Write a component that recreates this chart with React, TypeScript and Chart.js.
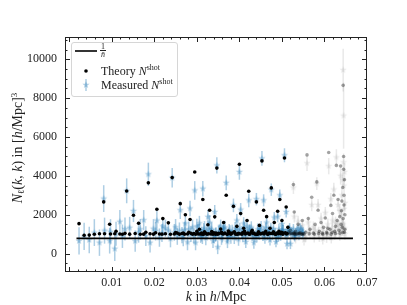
import React, { useEffect, useRef } from "react";
import { Chart, registerables } from "chart.js";

Chart.register(...registerables);

// ---------------- data ----------------
const kBlue = [
  0.0023, 0.0035, 0.0047, 0.0059, 0.0071, 0.0081, 0.0083, 0.0095, 0.0097, 0.0107,
  0.0110, 0.0119, 0.0125, 0.0131, 0.0135, 0.0142, 0.0151, 0.0155, 0.0163, 0.0167,
  0.0175, 0.0180, 0.0186, 0.0190, 0.0198, 0.0206, 0.0203, 0.0212, 0.0220, 0.0218,
  0.0226, 0.0233, 0.0238, 0.0242, 0.0247, 0.0254, 0.0261, 0.0259, 0.0265, 0.0273,
  0.0271, 0.0278, 0.0284, 0.0286, 0.0290, 0.0295, 0.0297, 0.0302, 0.0306, 0.0309,
  0.0314, 0.0316, 0.0321, 0.0326, 0.0330, 0.0333, 0.0338, 0.0342, 0.0345, 0.0347,
  0.0349, 0.0356, 0.0360, 0.0363, 0.0369, 0.0372, 0.0376, 0.0380, 0.0386, 0.0390,
  0.0394, 0.0398, 0.0400, 0.0403, 0.0406, 0.0410, 0.0415, 0.0418, 0.0422, 0.0425,
  0.0430, 0.0434, 0.0440, 0.0443, 0.0447, 0.0451, 0.0453, 0.0457, 0.0460, 0.0464,
  0.0468, 0.0472, 0.0475, 0.0478, 0.0482, 0.0486, 0.0490, 0.0493, 0.0495, 0.0497,
  0.0500, 0.0503, 0.0506, 0.0510, 0.0512, 0.0514, 0.0518, 0.0520, 0.0524, 0.0530,
  0.0535, 0.0540, 0.0546,
  0.0250, 0.0268, 0.0281, 0.0293, 0.0300, 0.0311, 0.0318, 0.0324, 0.0335, 0.0340,
  0.0353, 0.0358, 0.0366, 0.0374, 0.0383, 0.0388, 0.0396, 0.0408, 0.0412, 0.0420,
  0.0428, 0.0437, 0.0445, 0.0455, 0.0462, 0.0470, 0.0480, 0.0488, 0.0499, 0.0508,
  0.0516, 0.0527, 0.0532, 0.0543, 0.0550,
  0.0305, 0.0313, 0.0328, 0.0344, 0.0351, 0.0362, 0.0371, 0.0378, 0.0392, 0.0401,
  0.0414, 0.0423, 0.0432, 0.0441, 0.0449, 0.0458, 0.0466, 0.0474, 0.0484, 0.0492,
  0.0502, 0.0511, 0.0521, 0.0529, 0.0538, 0.0548,
];
const theoryBlue = [
  1540, 940, 950, 990, 1020, 2660, 1020, 1510, 1010, 1020,
  1150, 1010, 990, 1040, 3220, 1000, 1970, 1030, 1560, 990,
  1000, 1100, 3640, 1020, 1000, 2280, 1070, 1010, 1800, 1000,
  1020, 1580, 990, 3910, 1010, 1050, 2570, 1000, 1030, 2000,
  1000, 1010, 1750, 1040, 990, 4200, 1000, 1020, 1250, 1010,
  2780, 1000, 1040, 1480, 2230, 1010, 990, 1890, 1050, 4400,
  1000, 1260, 1020, 1600, 3000, 1010, 1100, 1000, 2430, 1020,
  1400, 1040, 4600, 2060, 1000, 1300, 1030, 1700, 3210, 1010,
  1200, 1050, 2660, 1000, 1450, 1020, 4770, 2230, 1080, 1900,
  1010, 1300, 3380, 1030, 1600, 1000, 2180, 1150, 2780, 1020,
  1700, 1050, 4920, 2400, 1030, 1350, 1010, 1200, 1020, 1060,
  1010, 1040, 1000,
  1080, 1060, 1100, 1030, 1150, 1060, 1120, 1000, 1130, 1070,
  1030, 1100, 1050, 1160, 1060, 1120, 1000, 1080, 1150, 1060,
  1110, 1000, 1120, 1060, 1140, 1050, 1120, 1060, 1100, 1070,
  1110, 1050, 1150, 1080, 1030,
  1010, 990, 1020, 1000, 1040, 1010, 990, 1030, 1000, 1020,
  1010, 990, 1040, 1000, 1020, 1010, 1000, 1030, 990, 1020,
  1000, 1010, 1040, 1000, 1020, 990,
];
const measuredBlue = [
  650, 880, 700, 1080, 560, 2830, 1180, 660, 1120, 250,
  1020, 1640, 890, 1260, 3230, 1330, 2190, 640, 1100, 1250,
  1720, 900, 4080, 560, 1280, 1700, 1150, 820, 1400, 1060,
  1300, 1200, 760, 3900, 1090, 880, 2230, 1180, 950, 1550,
  1220, 580, 2320, 1000, 1350, 3250, 560, 1120, 1560, 930,
  3340, 1200, 800, 1890, 1600, 1080, 640, 2140, 1000, 4540,
  330, 1400, 920, 1260, 3640, 620, 1180, 850, 2480, 1300,
  1700, 730, 4200, 2260, 1100, 1550, 600, 1400, 2740, 1180,
  950, 560, 2800, 1250, 1000, 1380, 4900, 2740, 800, 1600,
  1160, 700, 3290, 1000, 1850, 600, 1900, 1250, 3000, 930,
  1520, 1200, 5060, 2140, 500, 1100, 1300, 500, 1050, 880,
  1150, 950, 1200,
  1350, 800, 1250, 900, 1400, 1000, 1300, 1100, 1250, 900,
  1150, 800, 1350, 1000, 1150, 820, 1200, 900, 1300, 1050,
  1350, 900, 1100, 950, 1300, 1050, 1250, 850, 1150, 1000,
  1200, 1250, 1050, 1300, 1100,
  1150, 870, 1240, 960, 1080, 1300, 900, 1120, 1000, 1250,
  950, 1180, 1050, 870, 1220, 1100, 980, 1300, 1050, 900,
  1200, 1000, 1100, 950, 1250, 1050,
];
const errBlue = [
  700, 700, 680, 690, 680, 690, 670, 660, 650, 640,
  620, 600, 600, 590, 640, 560, 570, 550, 540, 530,
  520, 510, 600, 500, 490, 520, 480, 470, 470, 460,
  450, 450, 440, 500, 430, 430, 450, 420, 420, 420,
  410, 410, 400, 400, 400, 480, 390, 390, 380, 380,
  400, 370, 370, 370, 380, 360, 360, 360, 350, 420,
  360, 350, 350, 350, 380, 340, 340, 340, 350, 330,
  330, 330, 400, 340, 320, 320, 320, 320, 350, 310,
  310, 310, 320, 300, 300, 300, 380, 310, 300, 300,
  290, 290, 320, 290, 290, 280, 290, 280, 300, 280,
  280, 280, 360, 290, 280, 270, 270, 270, 270, 260,
  260, 260, 260,
  430, 420, 400, 390, 390, 380, 370, 370, 360, 360,
  350, 350, 340, 340, 330, 330, 330, 320, 320, 310,
  310, 300, 300, 300, 300, 290, 290, 280, 280, 280,
  270, 270, 260, 260, 260,
  380, 380, 370, 360, 350, 350, 340, 340, 330, 330,
  320, 310, 310, 300, 300, 300, 290, 290, 280, 280,
  280, 270, 270, 260, 260, 260,
];

const kGray = [
  0.0527, 0.0529, 0.0538, 0.0548, 0.0556, 0.0559, 0.0562, 0.0566, 0.0570, 0.0574,
  0.0578, 0.0582, 0.0585, 0.0588, 0.0592, 0.0595, 0.0598, 0.0602, 0.0605, 0.0608,
  0.0610, 0.0613, 0.0615, 0.0618, 0.0619, 0.0622, 0.0624, 0.0626, 0.0628, 0.0630,
  0.0632, 0.0634, 0.0636, 0.0638, 0.0639, 0.0640, 0.0641, 0.0642, 0.0643, 0.0644,
  0.0644, 0.0645, 0.0645, 0.0646, 0.0646, 0.0647, 0.0647, 0.0648, 0.0648,
  0.0532, 0.0542, 0.0552, 0.0564, 0.0576, 0.0586, 0.0596, 0.0606, 0.0616, 0.0626,
  0.0636, 0.0643,
];
const theoryGray = [
  3550, 2140, 1500, 1700, 1100, 5080, 1800, 1250, 2900, 1050,
  1500, 3690, 2230, 1150, 1600, 1050, 1350, 1830, 1100, 1300,
  5200, 1250, 2480, 1100, 2060, 3000, 1150, 1400, 4540, 1700,
  2780, 1200, 1900, 4510, 1500, 2200, 2700, 1350, 3400, 8660,
  1800, 4340, 5000, 2500, 3000, 1100, 3800, 1250, 2000,
  1000, 1020, 1000, 1020, 1000, 1030, 1000, 1020, 1000, 1030,
  1050, 1080,
];
const measuredGray = [
  3400, 1900, 1650, 1450, 900, 4650, 1600, 1050, 2500, 1350,
  1200, 3600, 2500, 900, 1800, 1300, 1000, 2100, 850, 1500,
  4500, 1000, 2800, 1300, 1700, 3300, 1000, 1600, 4950, 1500,
  2500, 1400, 2200, 4000, 1200, 2000, 3000, 1600, 3800, 9450,
  1500, 4700, 7100, 2300, 3500, 1300, 4200, 1000, 2600,
  800, 1100, 700, 1200, 850, 1100, 750, 1150, 800, 1100,
  950, 1200,
];
const errGray = [
  330, 300, 300, 300, 300, 400, 300, 300, 320, 300,
  300, 330, 310, 300, 300, 300, 300, 300, 300, 300,
  420, 300, 320, 300, 310, 340, 300, 300, 420, 300,
  330, 300, 320, 450, 300, 320, 350, 300, 380, 1100,
  320, 450, 1700, 330, 400, 300, 450, 300, 350,
  280, 280, 280, 280, 280, 280, 280, 280, 280, 280,
  290, 300,
];

const shotNoiseLevel = 780;
const shotNoiseK = [0.0017, 0.0667];
const theoryGrayCut = 0.0515;
const xTicks = [0.01, 0.02, 0.03, 0.04, 0.05, 0.06, 0.07];
const yTicks = [0, 2000, 4000, 6000, 8000, 10000];

// ---------------- helpers ----------------
const BLUE_A = "rgba(31,119,180,0.36)";
const GRAY_A = "rgba(120,120,120,0.16)";
const GRAY_DOT = "rgba(0,0,0,0.36)";
const FONT = "'Liberation Serif', 'Times New Roman', serif";

function makeStar(fill: string, r: number) {
  const size = Math.ceil(r * 2) + 2;
  const c = document.createElement("canvas");
  c.width = size;
  c.height = size;
  const ctx = c.getContext("2d")!;
  ctx.fillStyle = fill;
  ctx.beginPath();
  for (let i = 0; i < 10; i++) {
    const a = -Math.PI / 2 + (i * Math.PI) / 5;
    const rr = i % 2 === 0 ? r : r * 0.4;
    ctx.lineTo(size / 2 + rr * Math.cos(a), size / 2 + rr * Math.sin(a));
  }
  ctx.closePath();
  ctx.fill();
  return c;
}

const errorBarPlugin = {
  id: "errorBars",
  beforeDatasetDraw(chart: any, args: any) {
    const ds = chart.data.datasets[args.index];
    if (!ds.errors) return;
    const meta = args.meta;
    const y = chart.scales.y;
    const ctx = chart.ctx;
    const area = chart.chartArea;
    ctx.save();
    ctx.beginPath();
    ctx.rect(area.left, area.top, area.right - area.left, area.bottom - area.top);
    ctx.clip();
    ctx.strokeStyle = ds.errorColor;
    ctx.lineWidth = 1.5;
    meta.data.forEach((pt: any, i: number) => {
      const v = ds.data[i].y;
      const e = ds.errors[i];
      ctx.beginPath();
      ctx.moveTo(pt.x, y.getPixelForValue(v - e));
      ctx.lineTo(pt.x, y.getPixelForValue(v + e));
      ctx.stroke();
    });
    ctx.restore();
  },
};

const framePlugin = {
  id: "frameTicks",
  afterDraw(chart: any) {
    const { ctx, chartArea: a, scales } = chart;
    const xs = scales.x;
    const ys = scales.y;
    ctx.save();
    ctx.strokeStyle = "#222";
    ctx.lineWidth = 1;
    ctx.strokeRect(a.left + 0.5, a.top + 0.5, a.right - a.left - 1, a.bottom - a.top - 1);
    const tickX = (v: number, len: number) => {
      const px = Math.round(xs.getPixelForValue(v)) + 0.5;
      if (px < a.left + 1 || px > a.right - 1) return;
      ctx.beginPath();
      ctx.moveTo(px, a.bottom);
      ctx.lineTo(px, a.bottom - len);
      ctx.moveTo(px, a.top);
      ctx.lineTo(px, a.top + len);
      ctx.stroke();
    };
    const tickY = (v: number, len: number) => {
      const py = Math.round(ys.getPixelForValue(v)) + 0.5;
      if (py < a.top + 1 || py > a.bottom - 1) return;
      ctx.beginPath();
      ctx.moveTo(a.left, py);
      ctx.lineTo(a.left + len, py);
      ctx.moveTo(a.right, py);
      ctx.lineTo(a.right - len, py);
      ctx.stroke();
    };
    for (let i = 0; i <= 35; i++) {
      const v = i * 0.002;
      if (i % 5 === 0) tickX(v, 5);
      else tickX(v, 2.5);
    }
    for (let i = -2; i <= 22; i++) {
      const v = i * 500;
      if (i % 4 === 0) tickY(v, 5);
      else tickY(v, 2.5);
    }
    ctx.restore();
  },
};

export default function App() {
  const ref = useRef<HTMLCanvasElement>(null);

  useEffect(() => {
    const blueStar = makeStar(BLUE_A, 3.8);
    const grayStar = makeStar(GRAY_A, 3.8);

    const blackTheory: any[] = [];
    const grayTheory: any[] = [];
    kBlue.forEach((k, i) => {
      const p = { x: k, y: theoryBlue[i] };
      if (k > theoryGrayCut) grayTheory.push(p);
      else blackTheory.push(p);
    });
    kGray.forEach((k, i) => grayTheory.push({ x: k, y: theoryGray[i] }));

    const chart = new Chart(ref.current!, {
      type: "scatter",
      data: {
        datasets: [
          {
            type: "line",
            label: "1/n",
            data: shotNoiseK.map((k) => ({ x: k, y: shotNoiseLevel })),
            borderColor: "#000",
            borderWidth: 1.6,
            pointRadius: 0,
          } as any,
          {
            label: "Theory N^shot",
            data: blackTheory,
            backgroundColor: "#000",
            borderWidth: 0,
            pointRadius: 1.8,
          },
          {
            label: "Theory N^shot (beyond)",
            data: grayTheory,
            backgroundColor: GRAY_DOT,
            borderWidth: 0,
            pointRadius: 1.8,
          },
          {
            label: "Measured N^shot",
            data: kBlue.map((k, i) => ({ x: k, y: measuredBlue[i] })),
            pointStyle: blueStar,
            errors: errBlue,
            errorColor: BLUE_A,
          } as any,
          {
            label: "Measured N^shot (beyond)",
            data: kGray.map((k, i) => ({ x: k, y: measuredGray[i] })),
            pointStyle: grayStar,
            errors: errGray,
            errorColor: GRAY_A,
          } as any,
        ],
      },
      options: {
        responsive: false,
        animation: false,
        devicePixelRatio: 1,
        layout: { padding: { left: 0, top: 37, right: 40, bottom: 0 } },
        plugins: { legend: { display: false }, tooltip: { enabled: false } },
        scales: {
          x: {
            type: "linear",
            min: -0.001,
            max: 0.07,
            grid: { display: false, drawTicks: false, tickLength: 0 },
            border: { display: false },
            afterBuildTicks: (s: any) => {
              s.ticks = xTicks.map((v) => ({ value: v }));
            },
            afterFit: (s: any) => {
              s.height = 33;
            },
            ticks: {
              padding: 4,
              color: "#222",
              font: { family: FONT, size: 12 },
              maxRotation: 0,
              callback: (v: any) => Number(v).toFixed(2),
            },
          },
          y: {
            type: "linear",
            min: -950,
            max: 11150,
            grid: { display: false, drawTicks: false, tickLength: 0 },
            border: { display: false },
            afterBuildTicks: (s: any) => {
              s.ticks = yTicks.map((v) => ({ value: v }));
            },
            afterFit: (s: any) => {
              s.width = 65;
            },
            ticks: {
              padding: 8,
              color: "#222",
              font: { family: FONT, size: 12 },
              callback: (v: any) => String(v),
            },
          },
        },
      },
      plugins: [errorBarPlugin, framePlugin],
    });
    return () => chart.destroy();
  }, []);

  const txt: React.CSSProperties = {
    position: "absolute",
    fontFamily: FONT,
    color: "#222",
    whiteSpace: "nowrap",
  };
  const sup: React.CSSProperties = { fontSize: 8, position: "relative", top: -5 };

  return (
    <div style={{ position: "absolute", left: 0, top: 0, width: 407, height: 305, background: "#fff" }}>
      <canvas ref={ref} width={407} height={305} style={{ position: "absolute", left: 0, top: 0 }} />
      {/* legend */}
      <div
        style={{
          position: "absolute",
          left: 71,
          top: 42,
          width: 107,
          height: 55,
          border: "1px solid #d6d6d6",
          borderRadius: 3,
          background: "rgba(255,255,255,0.8)",
          boxSizing: "border-box",
        }}
      />
      <svg style={{ position: "absolute", left: 0, top: 0 }} width={407} height={305}>
        <line x1={75} y1={51} x2={97} y2={51} stroke="#000" strokeWidth={1.6} />
        <circle cx={86} cy={71} r={1.8} fill="#000" />
        <line x1={86} y1={79} x2={86} y2={91} stroke={BLUE_A} strokeWidth={1.5} />
        <polygon
          points="86,81.2 86.9,83.8 89.6,83.8 87.4,85.4 88.2,88 86,86.4 83.8,88 84.6,85.4 82.4,83.8 85.1,83.8"
          fill={BLUE_A}
        />
      </svg>
      <div style={{ ...txt, left: 100, top: 43, fontSize: 8, lineHeight: "7px", textAlign: "center" }}>
        <div style={{ borderBottom: "0.8px solid #222", padding: "0 1px" }}>1</div>
        <div>
          <i>n̄</i>
        </div>
      </div>
      <div style={{ ...txt, left: 101, top: 64, fontSize: 12, lineHeight: "14px" }}>
        Theory <i>N</i>
        <span style={sup}>shot</span>
      </div>
      <div style={{ ...txt, left: 101, top: 78, fontSize: 12, lineHeight: "14px" }}>
        Measured <i>N</i>
        <span style={sup}>shot</span>
      </div>
      {/* axis titles */}
      <div style={{ ...txt, left: 216, top: 289, fontSize: 14, lineHeight: "16px", transform: "translateX(-50%)" }}>
        <i>k</i> in <i>h</i>/Mpc
      </div>
      <div
        style={{
          ...txt,
          left: 18,
          top: 148,
          fontSize: 14,
          lineHeight: "16px",
          transform: "translate(-50%, -50%) rotate(-90deg)",
        }}
      >
        <i>N</i>
        <sub style={{ fontSize: 9, position: "relative", top: 2, verticalAlign: "baseline" }}>ℓ</sub>(<i>k</i>, <i>k</i>) in [
        <i>h</i>/Mpc]
        <span style={{ fontSize: 9, position: "relative", top: -5 }}>3</span>
      </div>
    </div>
  );
}
